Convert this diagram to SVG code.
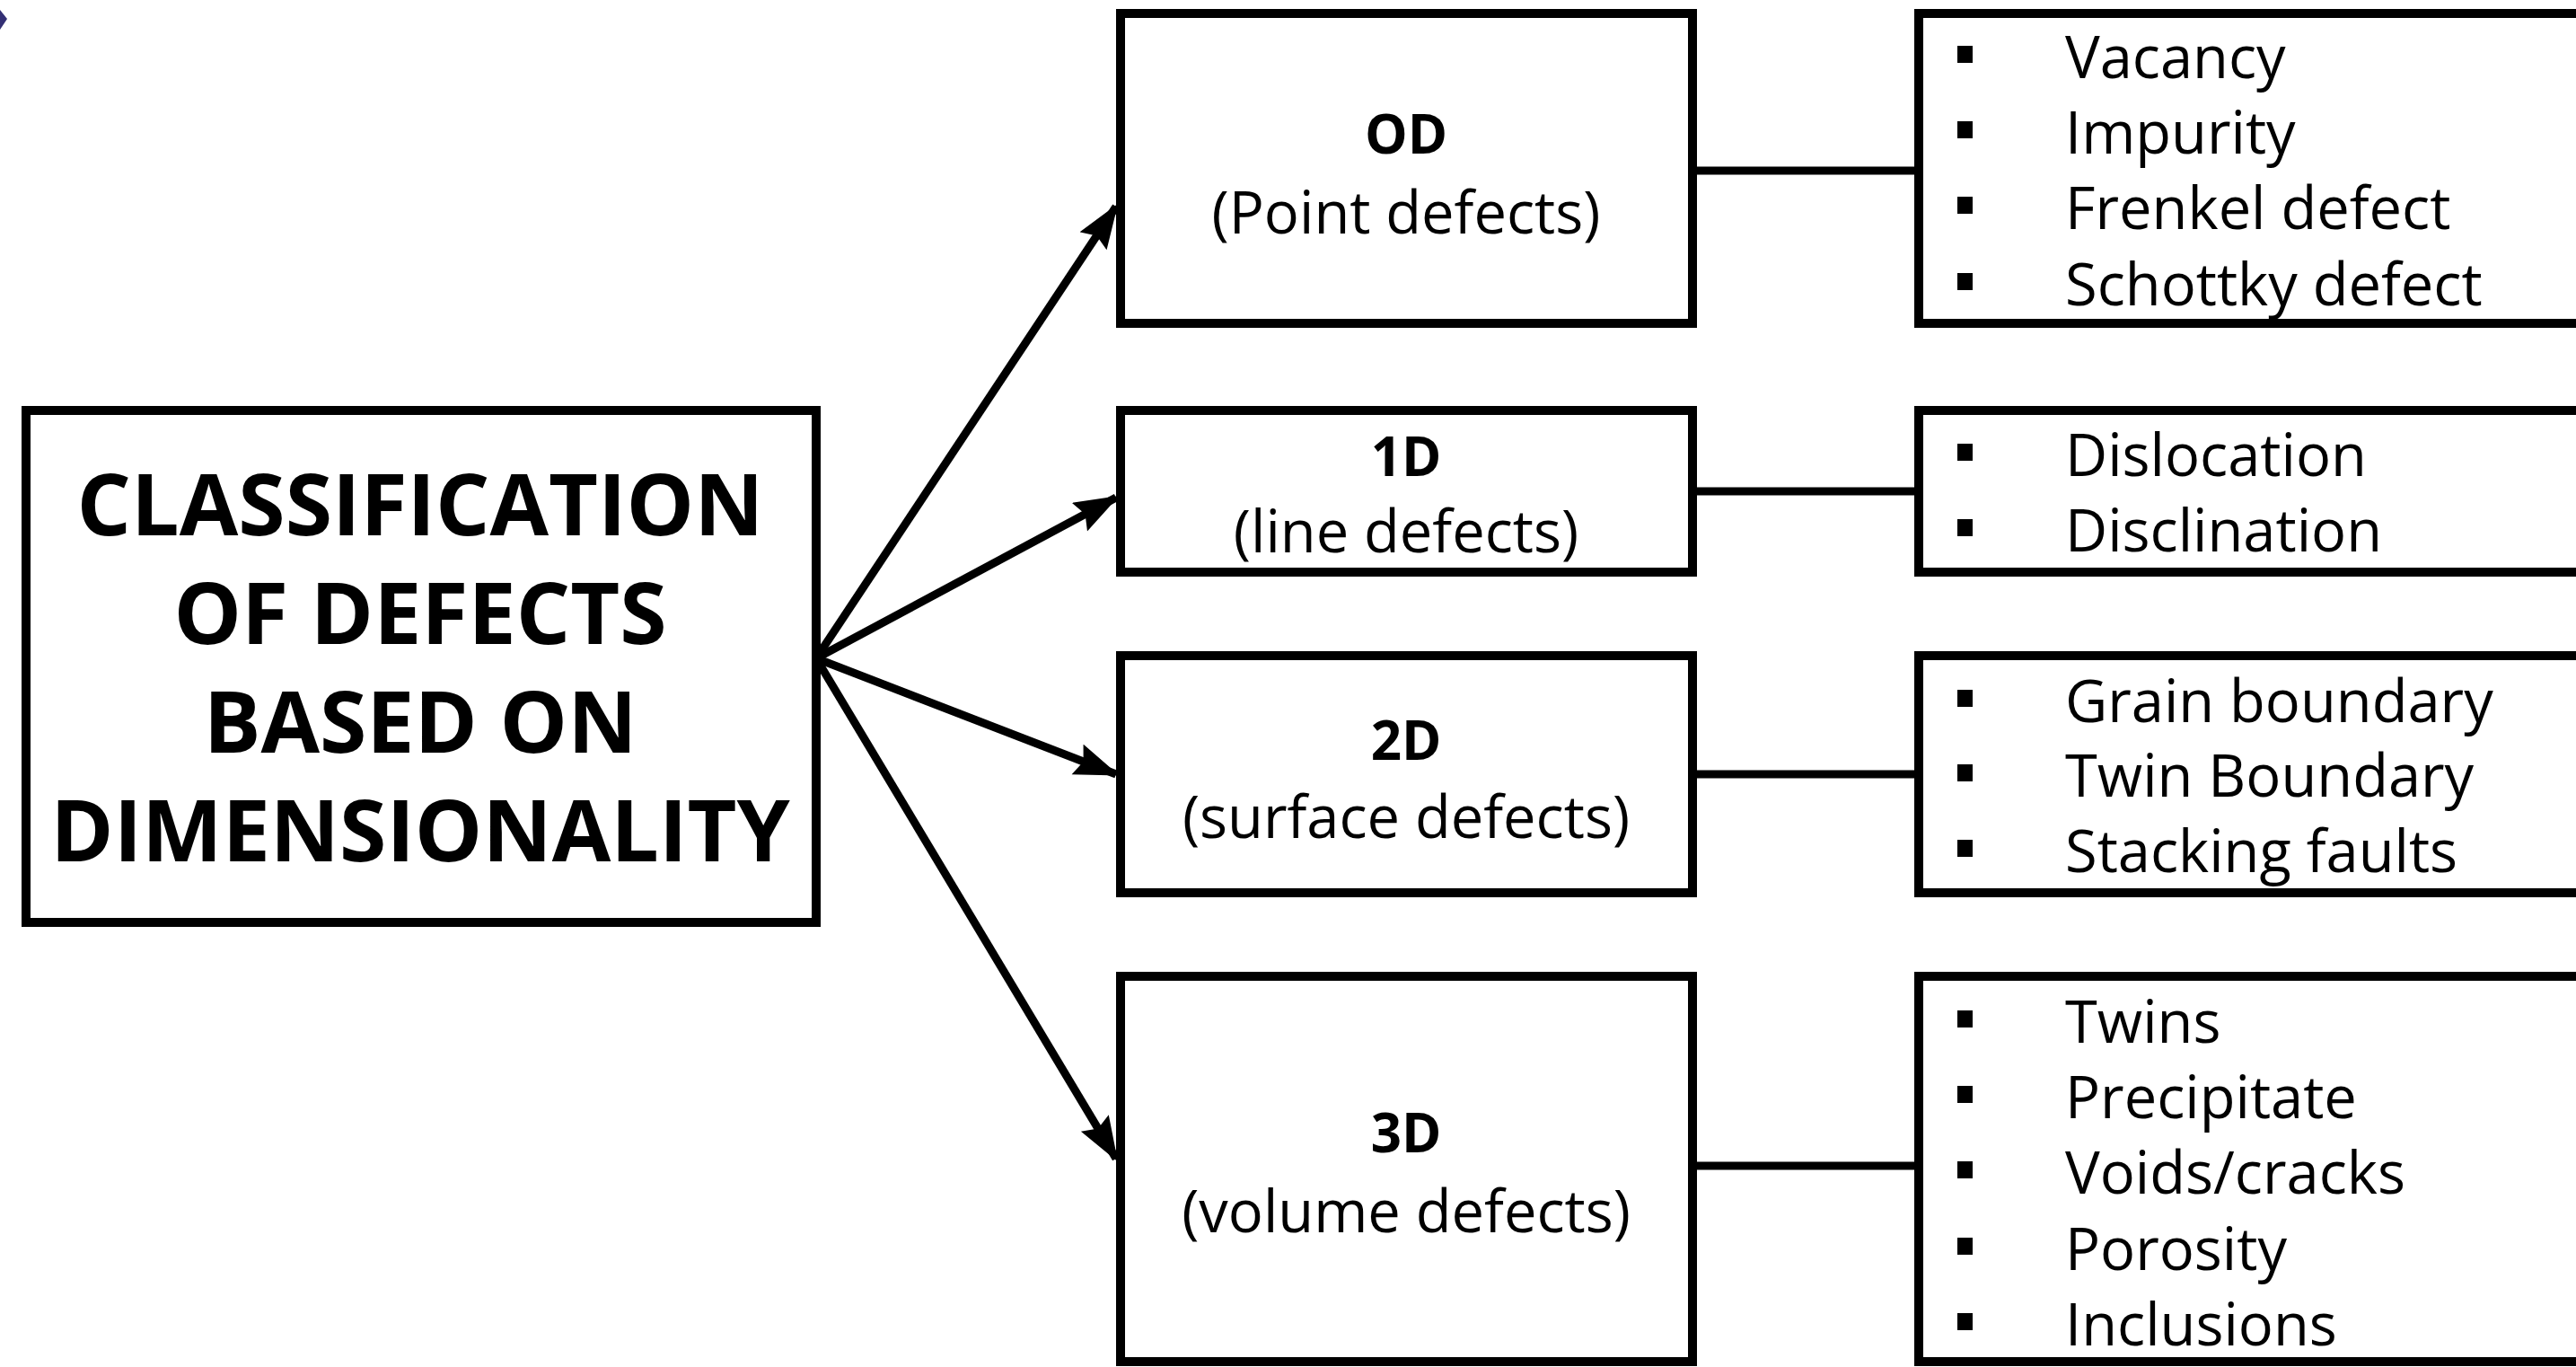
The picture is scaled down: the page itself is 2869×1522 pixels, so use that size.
<svg xmlns="http://www.w3.org/2000/svg" width="2869" height="1522" viewBox="0 0 2869 1522">
  <style>
    .box { fill: #ffffff; stroke: #000000; stroke-width: 10; }
    .title { font-family: "Open Sans", "Liberation Sans", sans-serif; font-weight: bold; font-size: 95px; fill: #000; text-anchor: middle; }
    .lbl { font-family: "Open Sans", "Liberation Sans", sans-serif; font-weight: bold; font-size: 60px; fill: #000; text-anchor: middle; }
    .sub { font-family: "Open Sans", "Liberation Sans", sans-serif; font-size: 65px; fill: #000; text-anchor: middle; }
    .item { font-family: "Open Sans", "Liberation Sans", sans-serif; font-size: 65px; fill: #000; }
    .bul { fill: #000; }
    .arrow { stroke: #000; stroke-width: 9; fill: none; }
    .link { stroke: #000; stroke-width: 9; fill: none; }
  </style>
  <defs>
    <marker id="ah" markerUnits="userSpaceOnUse" markerWidth="52" markerHeight="40" refX="46" refY="18" orient="auto">
      <path d="M0,0 L50,18 L0,36 L7,18 z" fill="#000"/>
    </marker>
  </defs>
  <rect x="0" y="0" width="2869" height="1522" fill="#ffffff"/>
  <polygon points="0,11 8,21 0,33" fill="#332f74"/>

  <g id="connectors">
    <line class="arrow" x1="909" y1="733" x2="1243" y2="230" marker-end="url(#ah)"/>
    <line class="arrow" x1="909" y1="733" x2="1243" y2="554" marker-end="url(#ah)"/>
    <line class="arrow" x1="909" y1="733" x2="1243" y2="862" marker-end="url(#ah)"/>
    <line class="arrow" x1="909" y1="733" x2="1243" y2="1290" marker-end="url(#ah)"/>
    <line class="link" x1="1885" y1="190" x2="2137" y2="190"/>
    <line class="link" x1="1885" y1="547" x2="2137" y2="547"/>
    <line class="link" x1="1885" y1="862" x2="2137" y2="862"/>
    <line class="link" x1="1885" y1="1298" x2="2137" y2="1298"/>
  </g>

  <g id="main">
    <rect class="box" x="29" y="457" width="880" height="570"/>
    <text class="title" x="468" y="596">CLASSIFICATION</text>
    <text class="title" x="468" y="717">OF DEFECTS</text>
    <text class="title" x="468" y="838">BASED ON</text>
    <text class="title" x="468" y="959">DIMENSIONALITY</text>
  </g>

  <g id="node-0d">
    <rect class="box" x="1248" y="15" width="637" height="345"/>
    <text class="lbl" x="1566" y="171">OD</text>
    <text class="sub" x="1566" y="260">(Point defects)</text>
  </g>
  <g id="node-1d">
    <rect class="box" x="1248" y="457" width="637" height="180"/>
    <text class="lbl" x="1566" y="530">1D</text>
    <text class="sub" x="1566" y="615">(line defects)</text>
  </g>
  <g id="node-2d">
    <rect class="box" x="1248" y="730" width="637" height="264"/>
    <text class="lbl" x="1566" y="846">2D</text>
    <text class="sub" x="1566" y="933">(surface defects)</text>
  </g>
  <g id="node-3d">
    <rect class="box" x="1248" y="1087" width="637" height="429"/>
    <text class="lbl" x="1566" y="1283">3D</text>
    <text class="sub" x="1566" y="1372">(volume defects)</text>
  </g>

  <g id="list-0d">
    <rect class="box" x="2137" y="15" width="760" height="345"/>
    <rect class="bul" x="2180" y="51" width="17" height="19"/>
    <rect class="bul" x="2180" y="135" width="17" height="19"/>
    <rect class="bul" x="2180" y="219" width="17" height="19"/>
    <rect class="bul" x="2180" y="304" width="17" height="19"/>
    <text class="item" x="2300" y="87">Vacancy</text>
    <text class="item" x="2300" y="171">Impurity</text>
    <text class="item" x="2300" y="255">Frenkel defect</text>
    <text class="item" x="2300" y="340">Schottky defect</text>
  </g>
  <g id="list-1d">
    <rect class="box" x="2137" y="457" width="760" height="180"/>
    <rect class="bul" x="2180" y="494" width="17" height="19"/>
    <rect class="bul" x="2180" y="578" width="17" height="19"/>
    <text class="item" x="2300" y="530">Dislocation</text>
    <text class="item" x="2300" y="614">Disclination</text>
  </g>
  <g id="list-2d">
    <rect class="box" x="2137" y="730" width="760" height="264"/>
    <rect class="bul" x="2180" y="768" width="17" height="19"/>
    <rect class="bul" x="2180" y="851" width="17" height="19"/>
    <rect class="bul" x="2180" y="935" width="17" height="19"/>
    <text class="item" x="2300" y="804">Grain boundary</text>
    <text class="item" x="2300" y="887">Twin Boundary</text>
    <text class="item" x="2300" y="971">Stacking faults</text>
  </g>
  <g id="list-3d">
    <rect class="box" x="2137" y="1087" width="760" height="429"/>
    <rect class="bul" x="2180" y="1125" width="17" height="19"/>
    <rect class="bul" x="2180" y="1209" width="17" height="19"/>
    <rect class="bul" x="2180" y="1293" width="17" height="19"/>
    <rect class="bul" x="2180" y="1378" width="17" height="19"/>
    <rect class="bul" x="2180" y="1462" width="17" height="19"/>
    <text class="item" x="2300" y="1161">Twins</text>
    <text class="item" x="2300" y="1245">Precipitate</text>
    <text class="item" x="2300" y="1329">Voids/cracks</text>
    <text class="item" x="2300" y="1414">Porosity</text>
    <text class="item" x="2300" y="1498">Inclusions</text>
  </g>
</svg>
